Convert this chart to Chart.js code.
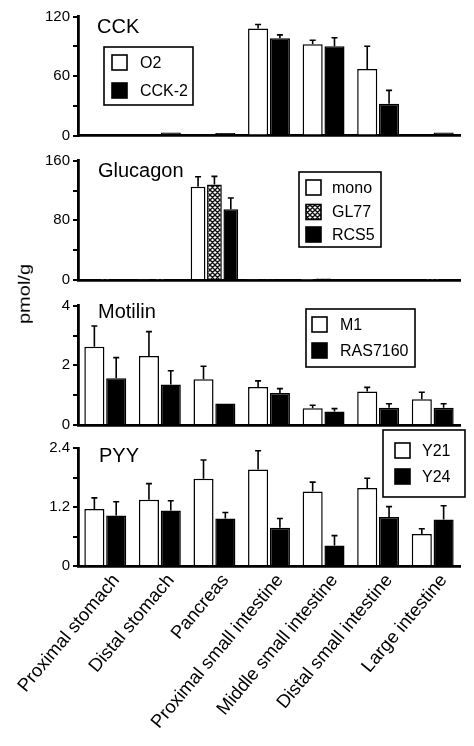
<!DOCTYPE html>
<html>
<head>
<meta charset="utf-8">
<script src="https://cdn.jsdelivr.net/npm/chart.js@4.4.1/dist/chart.umd.min.js"></script>
<style>
html,body{margin:0;padding:0;background:#fff;}
#wrap{position:relative;width:474px;height:746px;overflow:hidden;background:#fff;}
canvas{position:absolute;left:0;}
#ylab{position:absolute;left:25px;top:294px;font-family:"Liberation Sans",Arial,sans-serif;font-size:20px;color:#000;
  transform:translate(-50%,-50%) rotate(-90deg) scaleY(0.8);white-space:nowrap;}
</style>
</head>
<body>
<div id="wrap">
  <canvas id="c1" width="474" height="150" style="top:0px;width:474px;height:150px"></canvas>
  <canvas id="c2" width="474" height="150" style="top:145px;width:474px;height:150px"></canvas>
  <canvas id="c3" width="474" height="150" style="top:290px;width:474px;height:150px"></canvas>
  <canvas id="c4" width="474" height="326" style="top:420px;width:474px;height:326px"></canvas>
  <div id="ylab">pmol/g</div>
</div>
<script>
// ---------- DATA ----------
const categories = ["Proximal stomach","Distal stomach","Pancreas","Proximal small intestine","Middle small intestine","Distal small intestine","Large intestine"];

// CCK
const cckO2      = [1, 1, 1, 108, 92, 67, 1];
const cckO2Err   = [0.5, 0.5, 0.5, 4, 4, 23, 0.5];
const cckCCK2    = [1, 3, 2.5, 98, 90, 32, 3];
const cckCCK2Err = [0.5, 1.5, 1, 3.5, 8.5, 13.5, 1];
const cckTicks   = ["0", "", "60", "", "120"];

// Glucagon
const glMono    = [1.5, 1, 125, 1, 0.5, 1.5, 1.5];
const glMonoErr = [0.5, 0.5, 13.5, 0.5, 0.5, 0.5, 0.5];
const glGL77    = [0.5, 0.5, 128, 1, 2, 1.5, 0.5];
const glGL77Err = [0.5, 0.5, 11, 0.5, 0.5, 0.5, 0.5];
const glRCS5    = [0.5, 0.5, 95, 0.5, 0.5, 0.5, 0.5];
const glRCS5Err = [0.5, 0.5, 15, 0.5, 0.5, 0.5, 0.5];
const glTicks   = ["0", "", "80", "", "160"];

// Motilin
const moM1      = [2.62, 2.31, 1.53, 1.27, 0.56, 1.12, 0.86];
const moM1Err   = [0.70, 0.82, 0.44, 0.21, 0.10, 0.14, 0.24];
const moRAS     = [1.57, 1.36, 0.72, 1.07, 0.45, 0.58, 0.58];
const moRASErr  = [0.69, 0.46, 0.05, 0.15, 0.10, 0.13, 0.13];
const moTicks   = ["0", "", "2", "", "4"];

// PYY
const pyY21     = [1.16, 1.35, 1.78, 1.97, 1.52, 1.59, 0.65];
const pyY21Err  = [0.23, 0.33, 0.38, 0.38, 0.19, 0.20, 0.11];
const pyY24     = [1.03, 1.13, 0.97, 0.78, 0.42, 1.00, 0.95];
const pyY24Err  = [0.28, 0.20, 0.12, 0.19, 0.20, 0.21, 0.28];
const pyTicks   = ["0", "", "1.2", "", "2.4"];

// ---------- STYLE ----------
const FONT = '"Liberation Sans", Arial, Helvetica, sans-serif';
Chart.defaults.font.family = FONT;
Chart.defaults.color = '#000';
Chart.defaults.animation = false;

function hatchPattern() {
  const p = document.createElement('canvas');
  p.width = 5; p.height = 5;
  const g = p.getContext('2d');
  g.fillStyle = '#fff'; g.fillRect(0,0,5,5);
  g.strokeStyle = '#111'; g.lineWidth = 1.4;
  g.beginPath();
  g.moveTo(-1,-1); g.lineTo(6,6);
  g.moveTo(-1,6); g.lineTo(6,-1);
  g.moveTo(-1,4); g.lineTo(1,6);
  g.moveTo(4,-1); g.lineTo(6,1);
  g.moveTo(-1,1); g.lineTo(1,-1);
  g.moveTo(4,6); g.lineTo(6,4);
  g.stroke();
  return document.getElementById('c2').getContext('2d').createPattern(p, 'repeat');
}
const HATCH = hatchPattern();

// error bars (upward only, with cap)
const errorBarPlugin = {
  id: 'errorBars',
  afterDatasetsDraw(chart) {
    const ctx = chart.ctx;
    const ys = chart.scales.y;
    ctx.save();
    ctx.strokeStyle = '#000';
    ctx.lineWidth = 1.6;
    chart.data.datasets.forEach((ds, di) => {
      if (!ds.errors) return;
      const meta = chart.getDatasetMeta(di);
      meta.data.forEach((bar, i) => {
        const v = ds.data[i], e = ds.errors[i];
        if (!e) return;
        const y0 = ys.getPixelForValue(v);
        const y1 = ys.getPixelForValue(v + e);
        if (y0 - y1 < 2) return;
        ctx.beginPath();
        ctx.moveTo(bar.x, y0); ctx.lineTo(bar.x, y1);
        ctx.moveTo(bar.x - 3, y1); ctx.lineTo(bar.x + 3, y1);
        ctx.stroke();
      });
    });
    ctx.restore();
  }
};

// boxed legend + panel title
const boxLegendPlugin = {
  id: 'boxLegend',
  afterDraw(chart, args, o) {
    const ctx = chart.ctx;
    ctx.save();
    ctx.fillStyle = '#000';
    ctx.font = '20px ' + FONT;
    ctx.textAlign = 'left';
    ctx.textBaseline = 'alphabetic';
    ctx.fillText(o.title, o.titleX, o.titleY);
    ctx.lineWidth = 1.6;
    ctx.strokeStyle = '#000';
    ctx.strokeRect(o.x, o.y, o.w, o.h);
    ctx.font = '16px ' + FONT;
    ctx.textBaseline = 'middle';
    chart.data.datasets.forEach((ds, i) => {
      const cy = o.rows[i];
      ctx.fillStyle = ds.backgroundColor;
      ctx.fillRect(o.sx, cy - 7.5, 15, 15);
      ctx.strokeRect(o.sx, cy - 7.5, 15, 15);
      ctx.fillStyle = '#000';
      ctx.fillText(ds.label, o.tx, cy + 1);
    });
    ctx.restore();
  }
};

function makeChart(id, cfg) {
  const ds = cfg.series.map(s => ({
    label: s.label, data: s.data, errors: s.err,
    backgroundColor: s.color, borderColor: '#000', borderWidth: 1.5,
    categoryPercentage: cfg.catPct, barPercentage: cfg.barPct
  }));
  const isLast = !!cfg.showX;
  return new Chart(document.getElementById(id), {
    type: 'bar',
    data: { labels: categories, datasets: ds },
    plugins: [errorBarPlugin, boxLegendPlugin],
    options: {
      responsive: false,
      devicePixelRatio: 1,
      layout: { padding: { top: cfg.padTop, right: 14, bottom: cfg.padBottom, left: 0 } },
      plugins: {
        legend: { display: false },
        tooltip: { enabled: false },
        boxLegend: cfg.legend
      },
      scales: {
        x: {
          offset: true,
          grid: { display: false },
          border: { display: true, color: '#000', width: 2.8 },
          ticks: {
            display: isLast, autoSkip: false,
            minRotation: 50, maxRotation: 50,
            font: { size: 18.5 }, color: '#000', padding: -4, labelOffset: 11
          },
          afterFit(s) { s.height = isLast ? 180 : 0; }
        },
        y: {
          min: 0, max: cfg.max,
          grid: { display: true, drawOnChartArea: false, drawTicks: true, tickLength: 5, color: '#000', lineWidth: 2 },
          border: { display: true, color: '#000', width: 2.8 },
          ticks: {
            stepSize: cfg.step, font: { size: 15 }, color: '#000', padding: 3,
            callback: (v, i) => cfg.ticks[i]
          },
          afterFit(s) { s.width = 78; }
        }
      }
    }
  });
}

makeChart('c1', {
  max: 120, step: 30, ticks: cckTicks, padTop: 16.5, padBottom: 14.5,
  catPct: 0.8, barPct: 0.92,
  series: [
    { label: 'O2', data: cckO2, err: cckO2Err, color: '#ffffff' },
    { label: 'CCK-2', data: cckCCK2, err: cckCCK2Err, color: '#000000' }
  ],
  legend: { title: 'CCK', titleX: 97, titleY: 33, x: 104, y: 47, w: 89, h: 58, sx: 112, tx: 140, rows: [62.5, 90.5] }
});

makeChart('c2', {
  max: 160, step: 40, ticks: glTicks, padTop: 15.7, padBottom: 15,
  catPct: 0.9, barPct: 0.9,
  series: [
    { label: 'mono', data: glMono, err: glMonoErr, color: '#ffffff' },
    { label: 'GL77', data: glGL77, err: glGL77Err, color: HATCH },
    { label: 'RCS5', data: glRCS5, err: glRCS5Err, color: '#000000' }
  ],
  legend: { title: 'Glucagon', titleX: 98, titleY: 32, x: 299, y: 27, w: 82, h: 75, sx: 306, tx: 332, rows: [42.5, 67, 89.5] }
});

makeChart('c3', {
  max: 4, step: 1, ticks: moTicks, padTop: 15.7, padBottom: 15,
  catPct: 0.8, barPct: 0.92,
  series: [
    { label: 'M1', data: moM1, err: moM1Err, color: '#ffffff' },
    { label: 'RAS7160', data: moRAS, err: moRASErr, color: '#000000' }
  ],
  legend: { title: 'Motilin', titleX: 98, titleY: 28, x: 306, y: 19, w: 109, h: 58, sx: 312, tx: 340, rows: [34.5, 60.5] }
});

makeChart('c4', {
  max: 2.4, step: 0.6, ticks: pyTicks, padTop: 28.3, padBottom: 0, showX: true,
  catPct: 0.8, barPct: 0.92,
  series: [
    { label: 'Y21', data: pyY21, err: pyY21Err, color: '#ffffff' },
    { label: 'Y24', data: pyY24, err: pyY24Err, color: '#000000' }
  ],
  legend: { title: 'PYY', titleX: 99, titleY: 42, x: 383, y: 10, w: 82, h: 67, sx: 395, tx: 422, rows: [30.5, 56.5] }
});
</script>
</body>
</html>
